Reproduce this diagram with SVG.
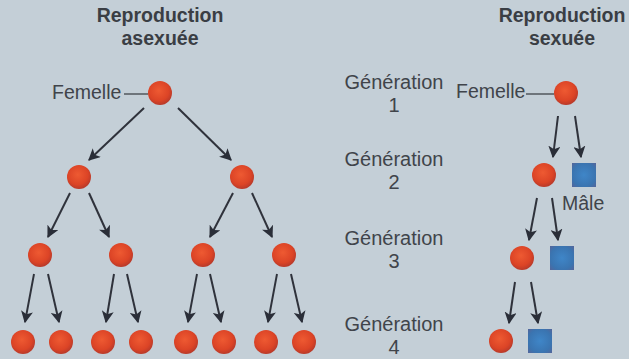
<svg xmlns="http://www.w3.org/2000/svg" width="629" height="359" viewBox="0 0 629 359">
<defs>
<radialGradient id="rg" cx="0.45" cy="0.4" r="0.6">
<stop offset="0" stop-color="#ee5a32"/>
<stop offset="0.7" stop-color="#dc4426"/>
<stop offset="1" stop-color="#b83a2a"/>
</radialGradient>
<radialGradient id="bg" cx="0.5" cy="0.5" r="0.7">
<stop offset="0" stop-color="#3f86c8"/>
<stop offset="0.7" stop-color="#3a74b0"/>
<stop offset="1" stop-color="#54659a"/>
</radialGradient>
<marker id="ah" viewBox="0 0 10 10" refX="9" refY="5" markerWidth="6" markerHeight="6" orient="auto" markerUnits="strokeWidth">
<path d="M0,0 L10,5 L0,10 L2.5,5 Z" fill="#2a2e38"/>
</marker>
</defs>
<style>
.f{fill:url(#rg)}
.m{fill:url(#bg)}
.t{font-family:"Liberation Sans",Arial,sans-serif;font-size:19.5px;fill:#40444a}
.g{font-size:20px;text-anchor:middle}
.h{font-family:"Liberation Sans",Arial,sans-serif;font-size:19.5px;font-weight:bold;fill:#3a3e44;text-anchor:middle}
.a{stroke:#2f323b;stroke-width:2;fill:none;marker-end:url(#ah)}
.l{stroke:#40444a;stroke-width:1.3}
</style>
<rect width="629" height="359" fill="#c4cfd7"/>
<g id="titles">
<text class="h" x="160" y="22">Reproduction<tspan x="160" y="45">asexuée</tspan></text>
<text class="h" x="562" y="22">Reproduction<tspan x="562" y="45">sexuée</tspan></text>
</g>
<g id="generations">
<text class="t g" x="394" y="89">Génération<tspan x="394" y="112">1</tspan></text>
<text class="t g" x="394" y="166">Génération<tspan x="394" y="189">2</tspan></text>
<text class="t g" x="394" y="245">Génération<tspan x="394" y="268">3</tspan></text>
<text class="t g" x="394" y="331">Génération<tspan x="394" y="354">4</tspan></text>
</g>
<g id="asex-g1">
<text class="t" x="52" y="99">Femelle</text>
<line class="l" x1="124" y1="94" x2="148" y2="94"/>
<circle class="f" cx="160" cy="93" r="12"/>
</g>
<g id="asex-g2">
<circle class="f" cx="79" cy="177" r="12"/>
<circle class="f" cx="242" cy="177" r="12"/>
</g>
<g id="asex-g3">
<circle class="f" cx="40" cy="255" r="12"/>
<circle class="f" cx="121" cy="255" r="12"/>
<circle class="f" cx="203" cy="255" r="12"/>
<circle class="f" cx="284" cy="255" r="12"/>
</g>
<g id="asex-g4">
<circle class="f" cx="23" cy="342" r="12"/>
<circle class="f" cx="61" cy="342" r="12"/>
<circle class="f" cx="103" cy="342" r="12"/>
<circle class="f" cx="141" cy="342" r="12"/>
<circle class="f" cx="186" cy="342" r="12"/>
<circle class="f" cx="224" cy="342" r="12"/>
<circle class="f" cx="266" cy="342" r="12"/>
<circle class="f" cx="304" cy="342" r="12"/>
</g>
<g id="sex-g1">
<text class="t" x="456" y="98">Femelle</text>
<line class="l" x1="526" y1="94" x2="554" y2="94"/>
<circle class="f" cx="566" cy="93" r="12"/>
</g>
<g id="sex-g2">
<circle class="f" cx="544" cy="175" r="12"/>
<rect class="m" x="572" y="163" width="24" height="24"/>
<text class="t" x="562" y="210">Mâle</text>
</g>
<g id="sex-g3">
<circle class="f" cx="522" cy="258" r="12"/>
<rect class="m" x="550" y="246" width="24" height="24"/>
</g>
<g id="sex-g4">
<circle class="f" cx="501" cy="341" r="12"/>
<rect class="m" x="528" y="329" width="24" height="24"/>
</g>
<g id="connectors">
<line class="a" x1="144" y1="108" x2="89" y2="160"/>
<line class="a" x1="178" y1="108" x2="231" y2="160"/>
<line class="a" x1="70" y1="193" x2="48" y2="237"/>
<line class="a" x1="89" y1="193" x2="109" y2="237"/>
<line class="a" x1="233" y1="193" x2="210" y2="237"/>
<line class="a" x1="252" y1="193" x2="272" y2="237"/>
<line class="a" x1="34" y1="274" x2="25" y2="322"/>
<line class="a" x1="48" y1="274" x2="59" y2="322"/>
<line class="a" x1="114" y1="274" x2="106" y2="322"/>
<line class="a" x1="127" y1="274" x2="138" y2="322"/>
<line class="a" x1="197" y1="274" x2="188" y2="322"/>
<line class="a" x1="210" y1="274" x2="221" y2="322"/>
<line class="a" x1="277" y1="274" x2="268" y2="322"/>
<line class="a" x1="291" y1="274" x2="302" y2="322"/>
<line class="a" x1="558" y1="116" x2="553" y2="157"/>
<line class="a" x1="575" y1="116" x2="581" y2="157"/>
<line class="a" x1="537" y1="198" x2="529" y2="240"/>
<line class="a" x1="552" y1="198" x2="558" y2="240"/>
<line class="a" x1="515" y1="282" x2="509" y2="323"/>
<line class="a" x1="531" y1="282" x2="538" y2="323"/>
</g>
</svg>
